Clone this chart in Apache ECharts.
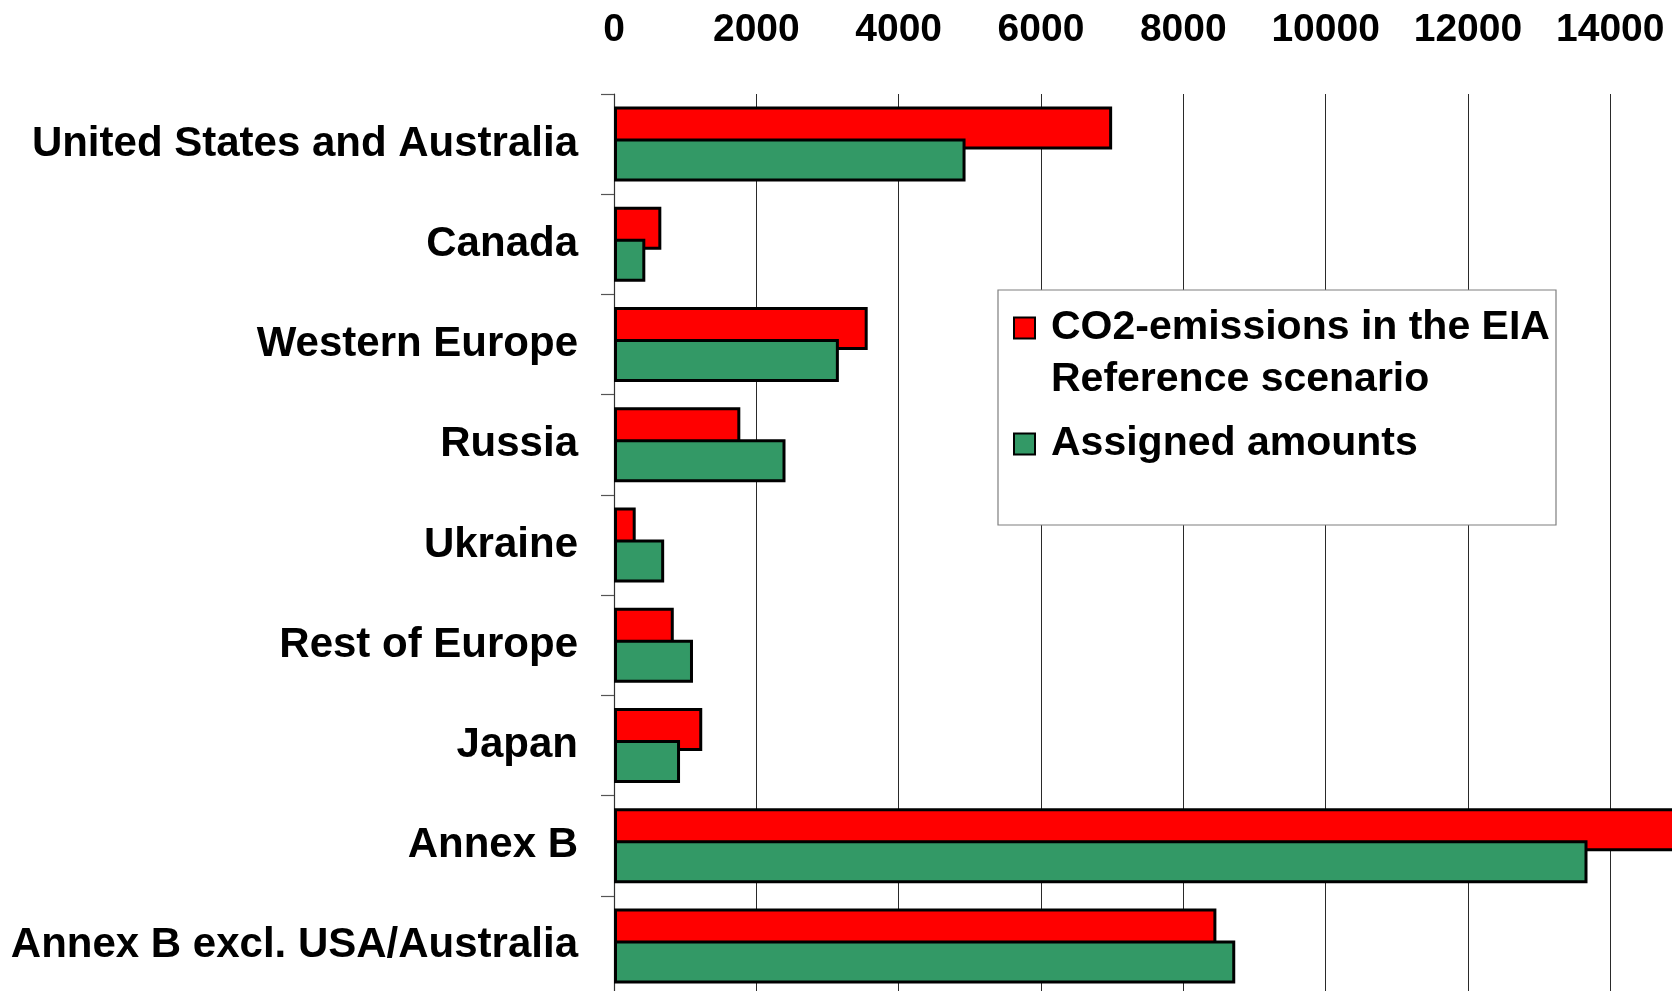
<!DOCTYPE html>
<html>
<head>
<meta charset="utf-8">
<title>CO2-emissions and assigned amounts</title>
<script src="https://cdn.jsdelivr.net/npm/echarts@6/dist/echarts.min.js"></script>
<style>
  html, body { margin: 0; padding: 0; background: #ffffff; }
  #chart { width: 1672px; height: 991px; }
</style>
</head>
<body>
<div id="chart"></div>
<script>
// Regions, top to bottom
const categories = [
  'United States and Australia',
  'Canada',
  'Western Europe',
  'Russia',
  'Ukraine',
  'Rest of Europe',
  'Japan',
  'Annex B',
  'Annex B excl. USA/Australia'
];
// CO2-emissions in the EIA Reference scenario
const emissions = [7000, 665, 3565, 1775, 305, 840, 1240, 15400, 8465];
// Assigned amounts
const assigned = [4940, 440, 3160, 2410, 705, 1110, 928, 13680, 8730];

const seriesNames = ['CO2-emissions in the EIA Reference scenario', 'Assigned amounts'];

const FONT = '"Liberation Sans", Arial, Helvetica, sans-serif';

const chart = echarts.init(document.getElementById('chart'), null, { renderer: 'canvas' });

chart.setOption({
  backgroundColor: '#ffffff',
  animation: false,
  grid: {
    left: 614,
    top: 94,
    width: 1138.6,
    height: 902,
    containLabel: false,
    outerBoundsMode: 'none'
  },
  xAxis: {
    type: 'value',
    position: 'top',
    min: 0,
    max: 16000,
    interval: 2000,
    axisLine: { show: false },
    axisTick: { show: false },
    axisLabel: {
      margin: 44,
      color: '#000000',
      fontFamily: FONT,
      fontWeight: 'bold',
      fontSize: 39,
      formatter: function (v) { return String(v); }
    },
    splitLine: { show: true, lineStyle: { color: '#2a2a2a', width: 1 } }
  },
  yAxis: {
    type: 'category',
    inverse: true,
    data: categories,
    axisLine: { show: true, lineStyle: { color: '#333333', width: 1.2 } },
    axisTick: { show: true, inside: false, length: 13, lineStyle: { color: '#555555', width: 1.2 } },
    axisLabel: {
      margin: 36,
      color: '#000000',
      fontFamily: FONT,
      fontWeight: 'bold',
      fontSize: 42
    },
    splitLine: { show: false }
  },
  legend: {
    orient: 'vertical',
    left: 1013,
    top: 250,
    padding: 0,
    itemGap: 12,
    itemWidth: 21,
    itemHeight: 21,
    icon: 'rect',
    selectedMode: false,
    z: 6,
    // first entry wraps onto a second line below its marker
    formatter: function (name) {
      return name === seriesNames[0]
        ? '\nCO2-emissions in the EIA\nReference scenario'
        : name;
    },
    textStyle: {
      color: '#000000',
      fontFamily: FONT,
      fontWeight: 'bold',
      fontSize: 41,
      lineHeight: 52,
      padding: [0, 0, 0, 11]
    },
    data: seriesNames
  },
  graphic: [
    {
      type: 'rect',
      z: 5,
      shape: { x: 998, y: 290, width: 558, height: 235 },
      style: { fill: '#ffffff', stroke: '#7f7f7f', lineWidth: 1.2 }
    }
  ],
  series: [
    {
      name: seriesNames[0],
      type: 'bar',
      data: emissions,
      barWidth: 43,
      barGap: '-25.6%',
      itemStyle: { color: '#ff0000', borderColor: '#000000', borderWidth: 3 }
    },
    {
      name: seriesNames[1],
      type: 'bar',
      data: assigned,
      barWidth: 43,
      barGap: '-25.6%',
      itemStyle: { color: '#339966', borderColor: '#000000', borderWidth: 3 }
    }
  ]
});
</script>
</body>
</html>
